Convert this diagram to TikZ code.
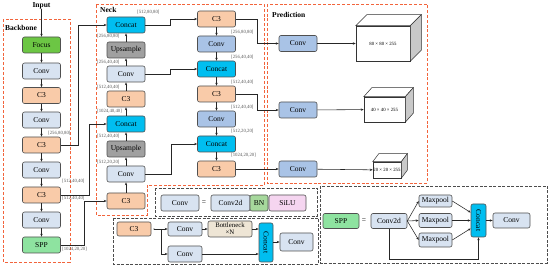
\documentclass[tikz,border=0pt]{standalone}
\usepackage{fontspec}
\setmainfont{Liberation Serif}
\usetikzlibrary{arrows.meta, calc}
\definecolor{regionred}{HTML}{F2643C}
\definecolor{legendgray}{HTML}{4D4D4D}
\definecolor{edgegray}{HTML}{505050}
\definecolor{dimgray}{HTML}{5A5A5A}
\definecolor{convlight}{HTML}{D8E3F1}
\definecolor{convmid}{HTML}{A9C3E6}
\definecolor{cthreecol}{HTML}{F9CBA9}
\definecolor{concatcol}{HTML}{00BEF0}
\definecolor{upcol}{HTML}{A0A0A0}
\definecolor{focuscol}{HTML}{6CC644}
\definecolor{sppcol}{HTML}{8EE3A0}
\definecolor{bncol}{HTML}{A6D89C}
\definecolor{silucol}{HTML}{F5D5F0}
\definecolor{bneckcol}{HTML}{EEE5D5}
\definecolor{sidegray}{HTML}{C9C9C9}

\begin{document}
\begin{tikzpicture}[x=1pt, y=-1pt,
    every node/.style={font=\fontsize{7.5}{8}\selectfont},
    blk/.style={rectangle, rounded corners=2pt, draw=edgegray, line width=0.6pt, inner sep=0pt, minimum width=38, minimum height=16},
    conv/.style={blk, fill=convlight},
    convm/.style={blk, fill=convmid},
    cthree/.style={blk, fill=cthreecol},
    concat/.style={blk, fill=concatcol},
    upsmp/.style={blk, fill=upcol},
    arr/.style={-{Stealth[length=3pt, width=2.4pt]}, line width=0.55pt, color=black!85},
    wire/.style={line width=0.55pt, color=black!85},
    dim/.style={font=\fontsize{4.8}{5}\selectfont, text=dimgray, inner sep=0pt},
    ttl/.style={font=\bfseries\fontsize{7.5}{8}\selectfont, inner sep=0pt},
    region/.style={draw=regionred, line width=0.8pt, dash pattern=on 3pt off 1.8pt},
    legend/.style={draw=legendgray, line width=0.8pt, dash pattern=on 3pt off 1.5pt},
    cube/.style={rectangle, draw=black!80, line width=0.5pt, fill=white, inner sep=0.5pt, font=\fontsize{4.8}{5}\selectfont},
    facetop/.style={draw=black!80, line width=0.5pt, fill=white},
    faceside/.style={draw=black!80, line width=0.5pt, fill=sidegray},
]
\useasboundingbox (0,0) rectangle (550,267);

% ============================================================ regions
\draw[region] (3,19) rectangle (70,262);
\draw[region] (96,4) -- (264,4) -- (264,185) -- (147,185) -- (147,215) -- (96,215) -- cycle;
\draw[region] (267,4) rectangle (427,183);
\node[ttl, anchor=west] (tbackbone) at (5,28) {Backbone};
\node[ttl, anchor=west] (tneck) at (100,10) {Neck};
\node[ttl, anchor=west] (tpred) at (272,15) {Prediction};

% ============================================================ backbone
\node[ttl] (input) at (41.5,6) {Input};
\node[blk, fill=focuscol] (bfocus) at (41.5,45) {Focus};
\node[conv] (bconva) at (41.5,71) {Conv};
\node[cthree] (bcthreea) at (41.5,95.5) {C3};
\node[conv] (bconvb) at (41.5,120) {Conv};
\node[cthree] (bcthreeb) at (41.5,145) {C3};
\node[conv] (bconvc) at (41.5,170) {Conv};
\node[cthree] (bcthreec) at (41.5,195) {C3};
\node[conv] (bconvd) at (41.5,220) {Conv};
\node[blk, fill=sppcol] (bspp) at (41.5,245) {SPP};

\draw[arr] (input) -- (bfocus);
\foreach \a/\b in {bfocus/bconva, bconva/bcthreea, bcthreea/bconvb, bconvb/bcthreeb,
                   bcthreeb/bconvc, bconvc/bcthreec, bcthreec/bconvd, bconvd/bspp}
    \draw[arr] (\a) -- (\b);

\node[dim, anchor=west] (dba) at (48,133) {[256,80,80]};
\node[dim, anchor=west] (dbb) at (62,181) {[512,40,40]};
\node[dim, anchor=west] (dbc) at (62,198) {[512,40,40]};
\node[dim, anchor=west] (dbd) at (62,249) {[1024,20,20]};

% ============================================================ neck, upward column
\node[concat] (nconcata) at (126,25) {Concat};
\node[upsmp] (nupa) at (126,50) {Upsample};
\node[conv] (nconva) at (126,74) {Conv};
\node[cthree] (ncthreea) at (126,99) {C3};
\node[concat] (nconcatb) at (126,124) {Concat};
\node[upsmp] (nupb) at (126,149) {Upsample};
\node[conv] (nconvb) at (126,174) {Conv};
\node[cthree] (ncthreeb) at (126,201) {C3};

\foreach \a/\b in {ncthreeb/nconvb, nconvb/nupb, nupb/nconcatb, nconcatb/ncthreea,
                   ncthreea/nconva, nconva/nupa, nupa/nconcata}
    \draw[arr] (\a) -- (\b);

\node[dim, anchor=west] (dna) at (137,12) {[512,80,80]};
\node[dim, anchor=west] (dnb) at (97,36) {[256,80,80]};
\node[dim, anchor=west] (dnc) at (97,62) {[256,40,40]};
\node[dim, anchor=west] (dnd) at (97,87) {[512,40,40]};
\node[dim, anchor=west] (dne) at (97,111) {[1024,40,40]};
\node[dim, anchor=west] (dnf) at (97,136) {[512,40,40]};
\node[dim, anchor=west] (dng) at (97,162) {[512,20,20]};

% backbone taps into the neck
\draw[arr] (bcthreeb.east) -- ++(17,0) |- (nconcata.west);
\draw[arr] (bcthreec.east) -- ++(28,0) |- (nconcatb.west);
\draw[arr] (bspp.east) -- ++(23,0) |- (ncthreeb.west);

% ============================================================ neck, downward column
\node[cthree] (ncthreec) at (216.5,19) {C3};
\node[convm] (nconvc) at (216.5,44) {Conv};
\node[concat] (nconcatc) at (216.5,69) {Concat};
\node[cthree] (ncthreed) at (216.5,94) {C3};
\node[convm] (nconvd) at (216.5,119) {Conv};
\node[concat] (nconcatd) at (216.5,144) {Concat};
\node[cthree] (ncthreee) at (216.5,169) {C3};

\foreach \a/\b in {ncthreec/nconvc, nconvc/nconcatc, nconcatc/ncthreed,
                   ncthreed/nconvd, nconvd/nconcatd, nconcatd/ncthreee}
    \draw[arr] (\a) -- (\b);

\draw[arr] (nconcata.east) -- ++(25,0) |- (ncthreec.west);
\draw[arr] (nconva.east) -- ++(25,0) |- (nconcatc.west);
\draw[arr] (nconvb.east) -- ++(26,0) |- (nconcatd.west);

\node[dim, anchor=west] (dnh) at (231,32) {[256,80,80]};
\node[dim, anchor=west] (dni) at (231,57) {[256,40,40]};
\node[dim, anchor=west] (dnj) at (231,82) {[512,40,40]};
\node[dim, anchor=west] (dnk) at (231,107) {[512,40,40]};
\node[dim, anchor=west] (dnl) at (231,131) {[512,20,20]};
\node[dim, anchor=west] (dnm) at (231,155) {[1024,20,20]};

% ============================================================ prediction
\node[convm] (pconva) at (298,43.5) {Conv};
\node[convm] (pconvb) at (298,110) {Conv};
\node[convm] (pconvc) at (298,169) {Conv};

\draw[arr] (ncthreec.east) -- ++(21,0) |- (pconva.west);
\draw[arr] (ncthreed.east) -- ++(21,0) |- (pconvb.west);
\draw[arr] (ncthreee.east) -- (pconvc.west);

\node[cube, minimum width=54, minimum height=35] (cubea) at (383,43.5) {80 × 80 × 255};
\filldraw[facetop] (cubea.north west) -- ++(11,-11) -- ($(cubea.north east)+(11,-11)$) -- (cubea.north east) -- cycle;
\filldraw[faceside] (cubea.north east) -- ++(11,-11) -- ($(cubea.south east)+(11,-11)$) -- (cubea.south east) -- cycle;

\node[cube, minimum width=41, minimum height=25] (cubeb) at (384.5,109.5) {40 × 40 × 255};
\filldraw[facetop] (cubeb.north west) -- ++(8,-9) -- ($(cubeb.north east)+(8,-9)$) -- (cubeb.north east) -- cycle;
\filldraw[faceside] (cubeb.north east) -- ++(8,-9) -- ($(cubeb.south east)+(8,-9)$) -- (cubeb.south east) -- cycle;

\node[cube, minimum width=28, minimum height=16] (cubec) at (387,170) {20 × 20 × 255};
\filldraw[facetop] (cubec.north west) -- ++(6,-8) -- ($(cubec.north east)+(6,-8)$) -- (cubec.north east) -- cycle;
\filldraw[faceside] (cubec.north east) -- ++(6,-8) -- ($(cubec.south east)+(6,-8)$) -- (cubec.south east) -- cycle;

\draw[arr] (pconva) -- (cubea);
\draw[arr] (pconvb) -- (cubeb);
\draw[arr] (pconvc) -- (cubec);

% ============================================================ legend: Conv
\draw[legend] (155,188) rectangle (317,216);
\node[conv] (lconv) at (180,203) {Conv};
\node (leqa) at (204,203) {=};
\node[conv, minimum width=39] (lconvtwod) at (230.5,203) {Conv2d};
\node[blk, fill=bncol, minimum width=18] (lbn) at (259,203) {BN};
\node[blk, fill=silucol, minimum width=37] (lsilu) at (287.5,203) {SiLU};

% ============================================================ legend: C3
\draw[legend] (113,218) rectangle (318,264);
\node[cthree, minimum width=34, minimum height=14] (lcthree) at (134,229) {C3};
\coordinate (lstart) at (154,229);
\coordinate (lsplit) at (161,229);
\node[conv, minimum width=34, minimum height=14] (lconvtop) at (185,229) {Conv};
\node[conv, minimum width=34, minimum height=16] (lconvbot) at (185,254) {Conv};
\node[blk, fill=bneckcol, minimum width=44, align=center, font=\fontsize{6.8}{7}\selectfont] (lbneck) at (230,229) {Bottleneck\\×N};
\node[concat, minimum width=14, minimum height=39] (lconcat) at (266,242.5) {};
\node[rotate=-90] (lconcattxt) at (lconcat) {Concat};
\node[conv, minimum width=33, minimum height=18] (lconvout) at (296.5,242) {Conv};

\draw[wire] (lstart) -- (lsplit);
\fill[black!85] (lstart) circle (0.6);
\draw[arr] (lsplit) -- (lconvtop.west);
\draw[arr] (lsplit) |- (lconvbot.west);
\draw[arr] (lconvtop) -- (lbneck);
\draw[arr] (lbneck.east) -- (lbneck.east -| lconcat.west);
\draw[arr] (lconvbot.east) -- (lconvbot.east -| lconcat.west);
\draw[arr] (lconcat.east |- lconvout) -- (lconvout.west);

% ============================================================ legend: SPP
\draw[legend] (320,186) rectangle (547,263);
\node[blk, fill=sppcol, minimum width=36, minimum height=15] (lspp) at (341,221) {SPP};
\node (leqb) at (364,221) {=};
\node[conv, minimum width=36, minimum height=15] (lconvtwodb) at (389,221) {Conv2d};
\node[conv, minimum width=33, minimum height=12] (lmpa) at (435.5,201) {Maxpool};
\node[conv, minimum width=33, minimum height=14] (lmpb) at (435.5,220.5) {Maxpool};
\node[conv, minimum width=33, minimum height=14] (lmpc) at (435.5,240) {Maxpool};
\node[concat, minimum width=15, minimum height=33] (lconcatb) at (478.5,220.5) {};
\node[rotate=-90] (lconcatbtxt) at (lconcatb) {Concat};
\node[conv, minimum width=37, minimum height=15] (lconvb) at (511.5,220.5) {Conv};

\draw[arr] (lconvtwodb.east) -- (lmpa.west);
\draw[arr] (lconvtwodb.east) -- (lmpb.west);
\draw[arr] (lconvtwodb.east) -- (lmpc.west);
\draw[arr] (lmpa.east) -- ($(lconcatb.west)+(0,-8)$);
\draw[arr] (lmpb.east) -- (lconcatb.west);
\draw[arr] (lmpc.east) -- ($(lconcatb.west)+(0,8)$);
\draw[arr] (lconvtwodb.south) -- ++(0,30) -| (lconcatb.south);
\draw[arr] (lconcatb) -- (lconvb);

\end{tikzpicture}
\end{document}
